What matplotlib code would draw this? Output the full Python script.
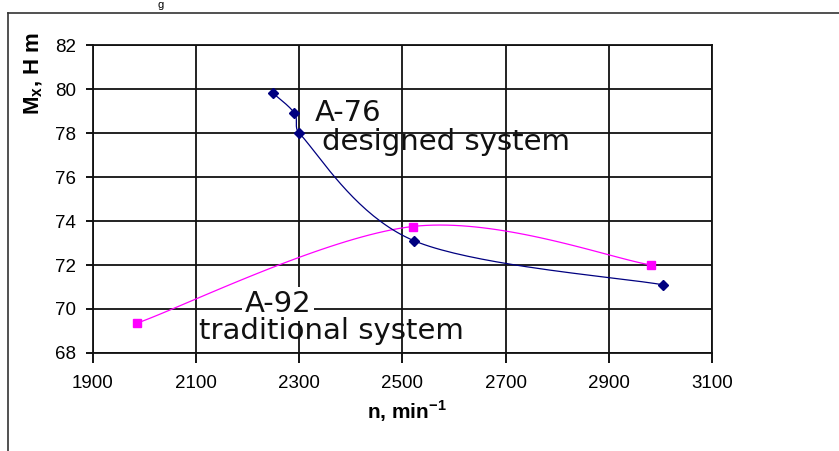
import matplotlib
matplotlib.use("Agg")
import matplotlib.pyplot as plt
from matplotlib.lines import Line2D
import numpy as np

plt.rcParams['font.family'] = ['Liberation Sans', 'DejaVu Sans']

# engine speed, min^-1, and torque, H m
n_a76 = [2250, 2291, 2300, 2523, 3005]
m_a76 = [79.8, 78.9, 78.0, 73.1, 71.1]
n_a92 = [1985, 2520, 2982]
m_a92 = [69.35, 73.75, 72.0]

x_ticks = [1900, 2100, 2300, 2500, 2700, 2900, 3100]
y_ticks = [68, 70, 72, 74, 76, 78, 80, 82]

# rough screen scale (px per unit) so smoothing works on the drawn shape
SX, SY = 103.2 / 200, 22.0


def smooth(xs, ys, steps=40, cap=0.4):
    # Bezier through the points with neighbour tangents (spreadsheet style),
    # control arms capped relative to the segment length to avoid loops
    p = np.column_stack([np.array(xs) * SX, np.array(ys) * SY]).astype(float)
    p = np.vstack([p[0], p, p[-1]])
    out = []
    t = np.linspace(0, 1, steps)[:, None]
    for i in range(1, len(p) - 2):
        p0, p1, p2, p3 = p[i - 1], p[i], p[i + 1], p[i + 2]
        seg_len = np.hypot(*(p2 - p1))
        a1 = (p2 - p0) / 6
        a2 = (p3 - p1) / 6
        for a in (a1, a2):
            la = np.hypot(*a)
            if la > cap * seg_len:
                a *= cap * seg_len / la
        c1 = p1 + a1
        c2 = p2 - a2
        seg = ((1 - t) ** 3) * p1 + 3 * ((1 - t) ** 2) * t * c1 \
            + 3 * (1 - t) * t ** 2 * c2 + t ** 3 * p2
        out.append(seg if i == 1 else seg[1:])
    out = np.vstack(out)
    return out[:, 0] / SX, out[:, 1] / SY


fig = plt.figure(figsize=(8.39, 4.51), dpi=100)
ax = fig.add_axes([0.1105, 0.2173, 0.7381, 0.6829])

blue = '#000080'
pink = '#ff00ff'

sx, sy = smooth(n_a92, m_a92)
ax.plot(sx, sy, color=pink, lw=0.9, zorder=3)
ax.plot(n_a92, m_a92, 's', color=pink, ms=5.5, zorder=4)

sx, sy = smooth(n_a76, m_a76)
ax.plot(sx, sy, color=blue, lw=0.9, zorder=3)
ax.plot(n_a76, m_a76, 'D', color=blue, ms=5.2, zorder=4)

ax.set_xlim(x_ticks[0], x_ticks[-1])
ax.set_ylim(y_ticks[0], y_ticks[-1])
ax.set_xticks(x_ticks)
ax.set_yticks(y_ticks)
ax.grid(True, color='#111111', lw=1.3)
ax.set_axisbelow(True)
for s in ax.spines.values():
    s.set_color('#111111')
    s.set_linewidth(1.3)

ax.tick_params(axis='x', length=7, width=1.3, pad=9, labelsize=13.5)
ax.tick_params(axis='y', length=5, width=1.3, pad=7, labelsize=13.5)

# curve captions
txt = dict(family='DejaVu Sans', fontsize=21, color='#111111',
           va='baseline', ha='left')
ax.text(2331, 78.55, 'A-76', **txt)
ax.text(2344, 77.23, 'designed system', **txt)
ax.text(2195, 69.86, 'A-92',
        bbox=dict(facecolor='white', edgecolor='none', pad=2), **txt)
ax.text(2106, 68.64, 'traditional system', **txt)

fig.text(0.485, 1 - 419 / 451, r'n, min$^{\mathregular{-1}}$', ha='center',
         va='baseline', fontsize=15, fontweight='bold')
fig.text(0.04, 1 - 74 / 451, r'M$_{\mathregular{x}}$, H m', ha='center',
         va='center', rotation=90, fontsize=16, fontweight='bold')

# frame around the chart and the tail of the caption above it
fig.add_artist(Line2D([8 / 839, 8 / 839], [0, 1 - 13 / 451],
                      color='#333333', lw=1.2, transform=fig.transFigure))
fig.add_artist(Line2D([8 / 839, 1], [1 - 13 / 451, 1 - 13 / 451],
                      color='#333333', lw=1.2, transform=fig.transFigure))
fig.text(157 / 839, 1 - 8 / 451, 'g', ha='left', va='baseline', fontsize=8)

fig.savefig('out.png', dpi=100, facecolor='white')
